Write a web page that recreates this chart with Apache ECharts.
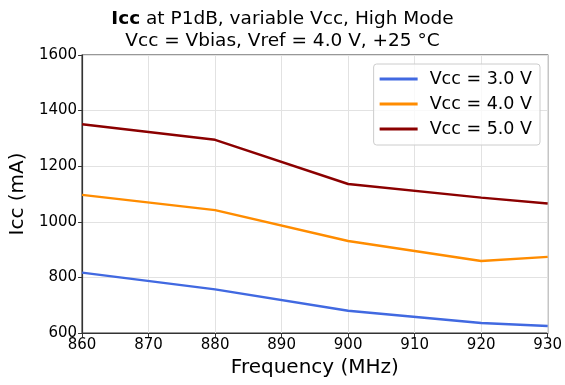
<!DOCTYPE html>
<html>
<head>
<meta charset="utf-8">
<script src="https://cdn.jsdelivr.net/npm/echarts@6/dist/echarts.min.js"></script>
<style>
  html, body { margin: 0; padding: 0; background: #fff; }
  #chart { width: 565px; height: 385px; }
</style>
</head>
<body>
<div id="chart"></div>
<script>
// frequency points (MHz)
const freqs = [860, 880, 900, 920, 930]
// Icc (mA) per Vcc
const icc30 = [817, 757, 680, 636, 625]
const icc40 = [1097, 1042, 931, 859, 874]
const icc50 = [1351, 1295, 1136, 1087, 1066]
const seriesNames = ['Vcc = 3.0 V', 'Vcc = 4.0 V', 'Vcc = 5.0 V']
const colorList = ['#4169e1', '#ff8c00', '#8b0000']

const font = 'DejaVu Sans'
const pair = arr => freqs.map((f, i) => [f, arr[i]])

const myChart = echarts.init(document.getElementById('chart'))
const option = {
  animation: false,
  color: colorList,
  textStyle: { fontFamily: font },
  title: {
    text: '{b|Icc} at P1dB, variable Vcc, High Mode\nVcc = Vbias, Vref = 4.0 V, +25 °C',
    left: 'center',
    top: 3,
    textStyle: {
      fontFamily: font,
      fontSize: 18.5,
      fontWeight: 'normal',
      color: '#000',
      lineHeight: 22,
      rich: {
        b: { fontFamily: font, fontSize: 18.5, fontWeight: 'bold', color: '#000', lineHeight: 22 }
      }
    }
  },
  grid: {
    left: 81,
    right: 14,
    top: 55,
    bottom: 52,
    show: true,
    borderColor: '#333',
    borderWidth: 1.2
  },
  legend: {
    right: 25,
    top: 64,
    orient: 'vertical',
    itemWidth: 38,
    itemHeight: 3,
    itemGap: 7,
    padding: [6, 8, 7, 6],
    borderColor: '#ccc',
    borderWidth: 1,
    borderRadius: 3,
    backgroundColor: 'rgba(255,255,255,0.8)',
    icon: 'rect',
    textStyle: { fontFamily: font, fontSize: 17.5, color: '#000', padding: [0, 0, 0, 7] },
    data: seriesNames
  },
  xAxis: {
    type: 'value',
    min: 860,
    max: 930,
    interval: 10,
    name: 'Frequency (MHz)',
    nameLocation: 'middle',
    nameGap: 23,
    nameTextStyle: { fontFamily: font, fontSize: 20, color: '#000' },
    axisLine: { lineStyle: { color: '#333', width: 1.2 } },
    axisTick: { show: true, length: 4, lineStyle: { color: '#333' } },
    axisLabel: { fontFamily: font, fontSize: 15, color: '#000', margin: 5 },
    splitLine: { show: true, lineStyle: { color: '#e2e2e2', width: 1 } }
  },
  yAxis: {
    type: 'value',
    min: 600,
    max: 1600,
    interval: 200,
    name: 'Icc (mA)',
    nameLocation: 'middle',
    nameGap: 47,
    nameTextStyle: { fontFamily: font, fontSize: 20, color: '#000' },
    axisLine: { show: true, lineStyle: { color: '#333', width: 1.2 } },
    axisTick: { show: true, length: 4, lineStyle: { color: '#333' } },
    axisLabel: { fontFamily: font, fontSize: 15, color: '#000', margin: 5, formatter: v => String(v) },
    splitLine: { show: true, lineStyle: { color: '#e2e2e2', width: 1 } }
  },
  series: [icc30, icc40, icc50].map((arr, i) => ({
    name: seriesNames[i],
    type: 'line',
    data: pair(arr),
    showSymbol: false,
    lineStyle: { width: 2.4, color: colorList[i] },
    itemStyle: { color: colorList[i] }
  }))
}
myChart.setOption(option)
</script>
</body>
</html>
